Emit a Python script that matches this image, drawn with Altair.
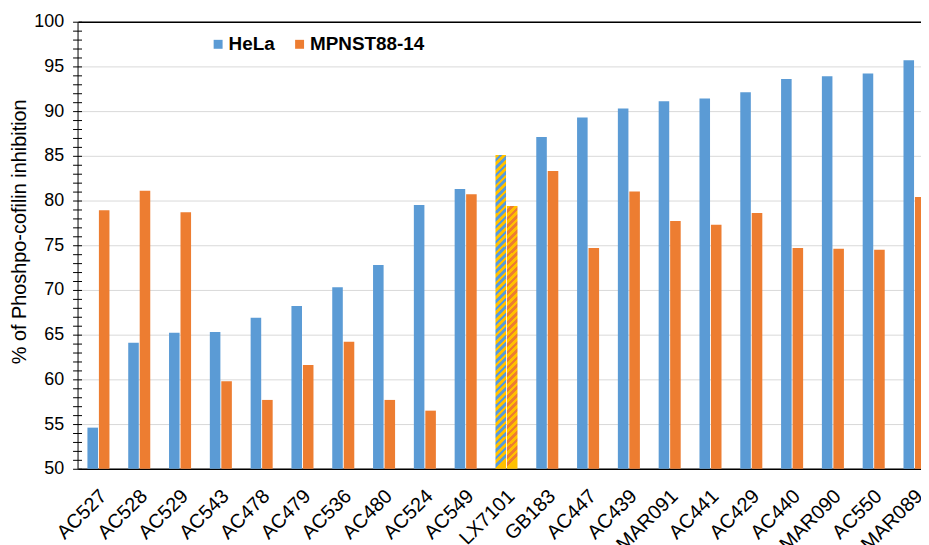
import altair as alt
import pandas as pd

categories = ["AC527", "AC528", "AC529", "AC543", "AC478", "AC479", "AC536", "AC480",
              "AC524", "AC549", "LX7101", "GB183", "AC447", "AC439", "MAR091", "AC441",
              "AC429", "AC440", "MAR090", "AC550", "MAR089"]
series = ["HeLa", "MPNST88-14"]
hela = [54.6, 64.1, 65.2, 65.3, 66.9, 68.2, 70.3, 72.8, 79.5, 81.3, 85.1, 87.1,
        89.3, 90.3, 91.1, 91.4, 92.1, 93.6, 93.9, 94.2, 95.7]
mpnst = [78.9, 81.1, 78.7, 59.8, 57.7, 61.6, 64.2, 57.7, 56.5, 80.7, 79.4, 83.3,
         74.7, 81.0, 77.7, 77.3, 78.6, 74.7, 74.6, 74.5, 80.4]
y_ticks = list(range(50, 101))
highlight = "LX7101"

BLUE = "#5B9BD5"
ORANGE = "#ED7D31"
YELLOW = "#FFC000"
FONT = "Liberation Sans"

rows = []
for c, a, b in zip(categories, hela, mpnst):
    rows.append({"category": c, "series": series[0], "value": a})
    rows.append({"category": c, "series": series[1], "value": b})
df = pd.DataFrame(rows)

PLOT_W = 849
PLOT_H = 450
Y_MIN, Y_MAX = 50, 100
BAR_W = 10.6


def stripes(value, color, period=7.5):
    h = (value - Y_MIN) / (Y_MAX - Y_MIN) * PLOT_H
    k = BAR_W / h
    norm = h * (1 + k * k)
    dt = period / norm
    stops = []
    t = 0.0
    cur = YELLOW
    stops.append({"offset": 0.0, "color": cur})
    while t < 1.0:
        nt = min(t + dt / 2, 1.0)
        stops.append({"offset": nt, "color": cur})
        cur = color if cur == YELLOW else YELLOW
        if nt < 1.0:
            stops.append({"offset": nt, "color": cur})
        t = nt
    return {"gradient": "linear", "x1": 0, "y1": 0, "x2": k, "y2": 1, "stops": stops}


x_scale = alt.Scale(domain=categories, range=[0.5, 863], paddingInner=0.46, paddingOuter=0.23)
xo_scale = alt.Scale(domain=series, paddingInner=0.08, paddingOuter=0)
y_scale = alt.Scale(domain=[Y_MIN, Y_MAX], nice=False, zero=False)

x_axis_bottom = alt.Axis(orient="bottom", labelAngle=-45, labelFontSize=20, labelColor="black",
                         labelFont=FONT, ticks=False, domainColor="black", domainWidth=1.5,
                         labelPadding=17, labelOffset=-2, title=None, grid=False)
x_axis_top = alt.Axis(orient="top", labels=False, ticks=False, domainColor="black",
                      domainWidth=1.5, title=None, grid=False)

y_axis_main = alt.Axis(orient="left", values=y_ticks,
                       labelExpr="datum.value % 5 === 0 ? datum.label : ''",
                       labelFontSize=18, labelColor="black", labelFont=FONT, labelPadding=9,
                       tickSize=5, tickColor="black", domainColor="black",
                       grid=True, gridColor="#D9D9D9",
                       gridOpacity={"condition": {"test": "datum.value % 5 === 0", "value": 1}, "value": 0},
                       title="% of Phoshpo-cofilin inhibition", titleFontSize=20,
                       titleFontWeight="normal", titleFont=FONT, titleColor="black",
                       titlePadding=4, titleY=211, labelFlush=False)
y_axis_inner = alt.Axis(orient="right", offset=-PLOT_W, values=y_ticks, labels=False,
                        domain=False, grid=False, tickSize=4, tickColor="black", title=None)

main = alt.Chart(df).transform_filter(
    alt.datum.category != highlight
).mark_bar().encode(
    x=alt.X("category:N", sort=categories, scale=x_scale, axis=x_axis_bottom),
    xOffset=alt.XOffset("series:N", sort=series, scale=xo_scale),
    y=alt.Y("value:Q", scale=y_scale, axis=y_axis_main),
    y2=alt.datum(Y_MIN),
    color=alt.Color("series:N", sort=series,
                    scale=alt.Scale(domain=series, range=[BLUE, ORANGE]),
                    legend=alt.Legend(orient="none", legendX=132, legendY=13,
                                      direction="horizontal", title=None,
                                      symbolType="square", symbolSize=81,
                                      symbolStrokeWidth=0, labelFontSize=19,
                                      labelFontWeight="bold", labelFont=FONT,
                                      labelColor="black", columnPadding=15,
                                      labelOffset=1)),
)

hi_idx = categories.index(highlight)

hl_hela = alt.Chart(df).transform_filter(
    (alt.datum.category == highlight) & (alt.datum.series == series[0])
).mark_bar(color=stripes(hela[hi_idx], BLUE)).encode(
    x=alt.X("category:N", sort=categories, scale=x_scale, axis=x_axis_top),
    xOffset=alt.XOffset("series:N", sort=series, scale=xo_scale),
    y=alt.Y("value:Q", scale=y_scale, axis=y_axis_inner),
    y2=alt.datum(Y_MIN),
)

hl_mpnst = alt.Chart(df).transform_filter(
    (alt.datum.category == highlight) & (alt.datum.series == series[1])
).mark_bar(color=stripes(mpnst[hi_idx], ORANGE)).encode(
    x=alt.X("category:N", sort=categories, scale=x_scale, axis=None),
    xOffset=alt.XOffset("series:N", sort=series, scale=xo_scale),
    y=alt.Y("value:Q", scale=y_scale, axis=None),
    y2=alt.datum(Y_MIN),
)

chart = alt.layer(main, hl_hela, hl_mpnst).resolve_axis(
    x="independent", y="independent"
).properties(
    width=PLOT_W, height=PLOT_H,
    autosize=alt.AutoSizeParams(type="none"),
    padding={"left": 70, "top": 12, "right": 0, "bottom": 85},
    background="white",
).configure_view(stroke=None)

chart.save("out.html", embed_options={"renderer": "svg", "actions": False})
